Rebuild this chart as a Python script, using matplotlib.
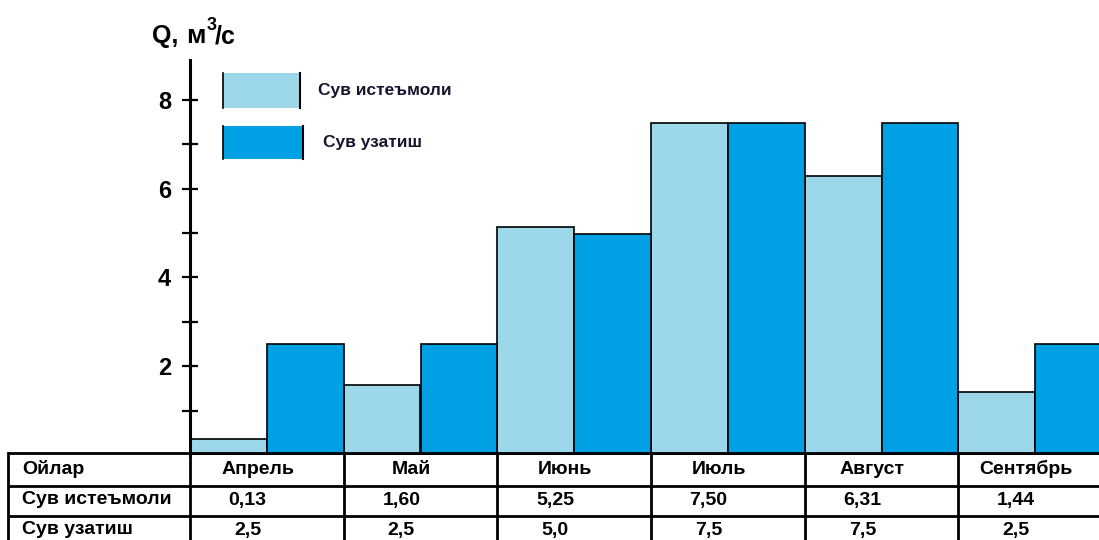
import matplotlib.pyplot as plt
import numpy as np
from matplotlib.transforms import blended_transform_factory

plt.rcParams['font.family'] = ['Liberation Sans', 'DejaVu Sans']

months = ['Апрель', 'Май', 'Июнь', 'Июль', 'Август', 'Сентябрь']
# bar heights as drawn in the picture
demand = [0.35, 1.57, 5.13, 7.48, 6.29, 1.43]
supply = [2.5, 2.5, 4.97, 7.48, 7.48, 2.5]
# values printed in the table
demand_txt = ['0,13', '1,60', '5,25', '7,50', '6,31', '1,44']
supply_txt = ['2,5', '2,5', '5,0', '7,5', '7,5', '2,5']
row_labels = ['Ойлар', 'Сув истеъмоли', 'Сув узатиш']
legend_labels = ['Сув истеъмоли', 'Сув узатиш']

c_light = '#9DD8EA'
c_dark = '#00A1E4'

W, H = 1099, 540
fig = plt.figure(figsize=(W / 100, H / 100), dpi=100)

# main axes: y=0 at pixel 455, top at pixel 60, x from 190 to ~1112
x0, x1, y0, y1 = 190, 1112, 455, 60
ax = fig.add_axes([x0 / W, (H - y0) / H, (x1 - x0) / W, (y0 - y1) / H])
ov = fig.add_axes([0, 0, 1, 1])
ov.set_xlim(0, W)
ov.set_ylim(H, 0)
ov.axis('off')
ov.patch.set_alpha(0)

n = len(months)
xs = np.arange(n) * 2
ax.bar(xs, demand, width=1, align='edge', color=c_light, edgecolor='black', linewidth=1.2)
ax.bar(xs + 1, supply, width=1, align='edge', color=c_dark, edgecolor='black', linewidth=1.2)
ax.set_xlim(0, 2 * n)
ax.set_ylim(0, 8.9)

for s in ['top', 'right', 'bottom']:
    ax.spines[s].set_visible(False)
ax.spines['left'].set_linewidth(2.2)
ax.set_xticks([])
ax.set_yticks([2, 4, 6, 8])
ax.set_yticks([1, 3, 5, 7], minor=True)
ax.tick_params(axis='y', which='major', direction='inout', length=11, width=1.6,
               pad=8, labelsize=17)
ax.tick_params(axis='y', which='minor', direction='inout', length=11, width=1.6)
for lbl in ax.get_yticklabels():
    lbl.set_fontweight('bold')

# axis title: Q, m3/s with the raised 3 sitting over the slash
ov.text(152, 43, 'Q,', fontsize=18, fontweight='bold', ha='left', va='baseline')
ov.text(186, 43, 'м', fontsize=19, fontweight='bold', ha='left', va='baseline')
ov.text(207, 30, '3', fontsize=13, fontweight='bold', ha='left', va='baseline')
ov.text(215, 43, '/с', fontsize=18, fontweight='bold', ha='left', va='baseline')

# legend drawn by hand
leg_boxes = [(223, 73, 77, 35), (223, 126, 80, 33)]
for (lx, ly, lw, lh), col, lab, tx in zip(leg_boxes, [c_light, c_dark], legend_labels, [318, 323]):
    ov.add_patch(plt.Rectangle((lx, ly), lw, lh, facecolor=col, edgecolor='none'))
    ov.plot([lx, lx], [ly, ly + lh], color='black', lw=1.2)
    ov.plot([lx + lw, lx + lw], [ly, ly + lh], color='black', lw=1.5)
    ov.text(tx, ly + lh / 2, lab, fontsize=12.5, fontweight='bold', color='#151530',
            ha='left', va='center')

# table under the bars
bt = blended_transform_factory(ax.transData, ov.transData)
row_y = [453, 486, 516]
text_y = [469, 500, 530]
for ry in row_y:
    ov.plot([8, W], [ry, ry], color='black', lw=2, solid_capstyle='butt')
ov.plot([8, 8], [453, H], color='black', lw=2)
for xb in range(0, 2 * n + 1, 2):
    ov.plot([xb, xb], [453, H], color='black', lw=2, transform=bt, clip_on=False)

for lab, ty in zip(row_labels, text_y):
    ov.text(22, ty, lab, fontsize=14, fontweight='bold', ha='left', va='center')
for i in range(n):
    cx = 2 * i + 1
    ov.text(cx - 0.12, text_y[0], months[i], fontsize=14, fontweight='bold',
            ha='center', va='center', transform=bt)
    ov.text(cx - 0.25, text_y[1], demand_txt[i], fontsize=14, fontweight='bold',
            ha='center', va='center', transform=bt)
    ov.text(cx - 0.25, text_y[2], supply_txt[i], fontsize=14, fontweight='bold',
            ha='center', va='center', transform=bt)

fig.savefig('out.png', dpi=100)
